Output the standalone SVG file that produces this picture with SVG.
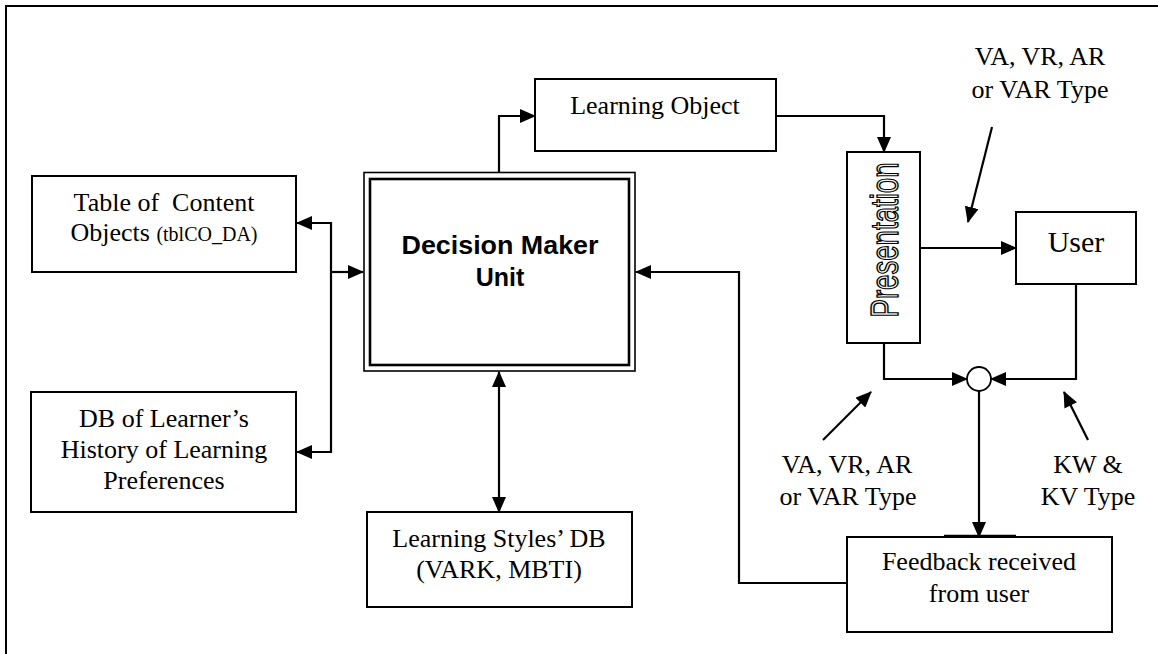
<svg xmlns="http://www.w3.org/2000/svg" width="1158" height="654" viewBox="0 0 1158 654">
<style>
.box{fill:#fff;stroke:#000;stroke-width:2}
.t{font-family:"Liberation Serif","Times New Roman",serif;font-size:26px;fill:#000;text-anchor:middle}
.c{fill:none;stroke:#000;stroke-width:2.2}
</style>
<defs>
<marker id="ah" markerUnits="userSpaceOnUse" markerWidth="16" markerHeight="14" refX="15" refY="7" orient="auto-start-reverse">
<path d="M0,0 L16,7 L0,14 z" fill="#000"/>
</marker>
</defs>
<rect x="6" y="6" width="1170" height="670" fill="#fff" stroke="#000" stroke-width="2"/>

<g id="connectors">
<path class="c" d="M297,223 H331 V452 H297" marker-start="url(#ah)" marker-end="url(#ah)"/>
<path class="c" d="M331,272 H363" marker-end="url(#ah)"/>
<path class="c" d="M499,172 V116 H535" marker-end="url(#ah)"/>
<path class="c" d="M776,116 H884 V152" marker-end="url(#ah)"/>
<path class="c" d="M920,248 H1016" marker-end="url(#ah)"/>
<path class="c" d="M884,343 V379 H967" marker-end="url(#ah)"/>
<path class="c" d="M1076,284 V379 H991" marker-end="url(#ah)"/>
<path class="c" d="M979,391 V537" marker-end="url(#ah)"/>
<path class="c" d="M847,583 H739 V272 H636" marker-end="url(#ah)"/>
<path class="c" d="M499,372 V512" marker-start="url(#ah)" marker-end="url(#ah)"/>
<path class="c" d="M992,127 L968,222" marker-end="url(#ah)"/>
<path class="c" d="M823,440 L871,392" marker-end="url(#ah)"/>
<path class="c" d="M1088,440 L1064,392" marker-end="url(#ah)"/>
</g>

<g id="table-co">
<rect class="box" x="32" y="176" width="264" height="96"/>
<text class="t" x="164" y="211" xml:space="preserve">Table of  Content</text>
<text class="t" x="164" y="241">Objects <tspan style="font-size:20px">(tblCO_DA)</tspan></text>
</g>

<g id="db-history">
<rect class="box" x="31" y="392" width="265" height="120"/>
<text class="t" x="164" y="427">DB of Learner’s</text>
<text class="t" x="164" y="458">History of Learning</text>
<text class="t" x="164" y="489">Preferences</text>
</g>

<g id="dmu">
<rect x="364" y="172.5" width="271" height="198.5" fill="#fff" stroke="#000" stroke-width="1.6"/>
<rect x="370" y="179" width="259" height="186" fill="none" stroke="#000" stroke-width="2.6"/>
<text x="500" y="254" font-family="'Liberation Sans',Arial,sans-serif" font-weight="bold" font-size="25" text-anchor="middle" textLength="197" lengthAdjust="spacingAndGlyphs">Decision Maker</text>
<text x="500" y="286" font-family="'Liberation Sans',Arial,sans-serif" font-weight="bold" font-size="25" text-anchor="middle">Unit</text>
</g>

<g id="learning-object">
<rect class="box" x="535" y="79" width="241" height="72"/>
<text class="t" x="655" y="114">Learning Object</text>
</g>

<g id="learning-styles">
<rect class="box" x="367" y="512" width="265" height="95"/>
<text class="t" x="499" y="547">Learning Styles’ DB</text>
<text class="t" x="499" y="578">(VARK, MBTI)</text>
</g>

<g id="presentation">
<rect class="box" x="847" y="152" width="73" height="191"/>
<text x="0" y="0" transform="translate(898,240) rotate(-90)" font-family="'Liberation Sans',Arial,sans-serif" font-size="38" text-anchor="middle" textLength="155" lengthAdjust="spacingAndGlyphs" fill="#f2f2f2" stroke="#000" stroke-width="1.4">Presentation</text>
</g>

<g id="user">
<rect class="box" x="1016" y="212" width="120" height="72"/>
<text class="t" x="1076" y="252" style="font-size:30px">User</text>
</g>

<g id="junction">
<circle cx="979" cy="379" r="12" fill="#fff" stroke="#000" stroke-width="1.8"/>
</g>

<g id="feedback">
<rect class="box" x="847" y="537" width="265" height="95"/>
<line x1="944" y1="535.5" x2="1016" y2="535.5" stroke="#000" stroke-width="1.5"/>
<text class="t" x="979" y="570">Feedback received</text>
<text class="t" x="979" y="602">from user</text>
</g>

<g id="label-top">
<text class="t" x="1040" y="65">VA, VR, AR</text>
<text class="t" x="1040" y="98">or VAR Type</text>
</g>
<g id="label-left">
<text class="t" x="847" y="473">VA, VR, AR</text>
<text class="t" x="848" y="505">or VAR Type</text>
</g>
<g id="label-right">
<text class="t" x="1088" y="473">KW &amp;</text>
<text class="t" x="1088" y="505">KV Type</text>
</g>
</svg>
